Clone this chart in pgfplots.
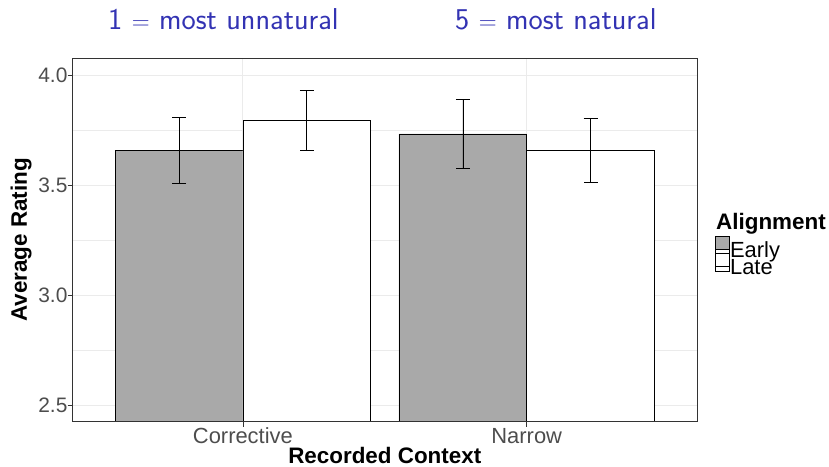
\documentclass[border=0pt]{standalone}
\usepackage{pgfplots}
\pgfplotsset{compat=1.18}
\usepackage{fontspec}
\setmainfont{Liberation Sans}
\definecolor{tickgrey}{HTML}{4D4D4D}
\definecolor{bordergrey}{HTML}{333333}
\definecolor{gridgrey}{HTML}{EBEBEB}
\definecolor{earlygrey}{RGB}{169,169,169}
\definecolor{beamerblue}{RGB}{51,51,179}
\pgfplotstableread{
x y e
0.775 3.657 0.150
1.775 3.732 0.156
}\earlydata
\pgfplotstableread{
x y e
1.225 3.794 0.136
2.225 3.657 0.144
}\latedata
\begin{document}
\begin{tikzpicture}
\useasboundingbox (-72.6bp,-45.5bp) rectangle (756.4bp,421.5bp);
\begin{axis}[
  scale only axis, width=624.4bp, height=363bp,
  xmin=0.4, xmax=2.6, ymin=2.425, ymax=4.075,
  xtick={1,2}, xticklabels={Corrective,Narrow},
  ytick={2.5,3,3.5,4},
  minor ytick={2.75,3.25,3.75},
  grid=both,
  major grid style={gridgrey, line width=0.8bp},
  minor grid style={gridgrey, line width=0.5bp},
  tick align=outside, major tick length=5bp, minor tick length=0pt,
  tick style={bordergrey, line width=0.6bp},
  axis line style={bordergrey, line width=0.7bp},
  xtick pos=left, ytick pos=left,
  /pgf/number format/.cd, fixed, fixed zerofill, precision=1, assume math mode=true,
  /pgfplots/.cd,
  yticklabel style={font=\fontsize{21}{21}\selectfont, text=tickgrey, anchor=east, inner sep=0pt},
  xticklabel style={font=\fontsize{22}{22}\selectfont, text=tickgrey, anchor=base, inner sep=0pt, yshift=-16.8bp},
  ylabel={Average Rating},
  ylabel style={at={(axis description cs:-0.0826,0.5)}, anchor=center, font=\bfseries\fontsize{22.5}{22.5}\selectfont, inner sep=0pt},
  xlabel={Recorded Context},
  xlabel style={at={(axis description cs:0.5,-0.1157)}, anchor=base, font=\bfseries\fontsize{22.5}{22.5}\selectfont, inner sep=0pt},
  legend style={at={(axis description cs:1.0283,0.48898)}, anchor=north west, draw=none, fill=none, inner sep=0pt, outer sep=0pt, row sep=0pt, font=\fontsize{22}{22}\selectfont, nodes={inner sep=0pt, outer sep=0pt, text height=10bp, text depth=4bp}, /tikz/every odd column/.style={column sep=1bp}},
  legend cell align=left,
]
\addplot[ybar, bar width=0.45, bar shift=0pt, fill=earlygrey, draw=black, line width=0.7bp, forget plot,
  error bars/.cd, y dir=both, y explicit, error bar style={black, line width=0.7bp}, error mark options={rotate=90, black, line width=0.7bp, mark size=7bp}]
  table[x=x, y=y, y error=e] {\earlydata};
\addplot[ybar, bar width=0.45, bar shift=0pt, fill=white, draw=black, line width=0.7bp, forget plot,
  error bars/.cd, y dir=both, y explicit, error bar style={black, line width=0.7bp}, error mark options={rotate=90, black, line width=0.7bp, mark size=7bp}]
  table[x=x, y=y, y error=e] {\latedata};
\draw[bordergrey, line width=0.7bp] (rel axis cs:0,0) rectangle (rel axis cs:1,1);
\addlegendimage{legend image code/.code={\path (0bp,0bp) rectangle (14bp,10bp); \draw[fill=earlygrey, draw=black, line width=0.7bp, overlay] (0bp,4.6bp) rectangle (14bp,18bp);}}
\addlegendentry{Early}
\addlegendimage{legend image code/.code={\path (0bp,0bp) rectangle (14bp,10bp); \draw[fill=white, draw=black, line width=0.7bp, overlay] (0bp,4.6bp) rectangle (14bp,18bp);}}
\addlegendentry{Late}
\end{axis}
\node[anchor=base west, inner sep=0pt, font=\bfseries\fontsize{22.5}{22.5}\selectfont] at (643.4bp,191.5bp) {Alignment};
\node[anchor=base west, inner sep=0pt, text=beamerblue, font=\sffamily\fontsize{30.3}{30.3}\selectfont] at (35.4bp,391.5bp) {1 $=$ most unnatural};
\node[anchor=base west, inner sep=0pt, text=beamerblue, font=\sffamily\fontsize{30.3}{30.3}\selectfont] at (382.4bp,391.5bp) {5 $=$ most natural};
\end{tikzpicture}
\end{document}
